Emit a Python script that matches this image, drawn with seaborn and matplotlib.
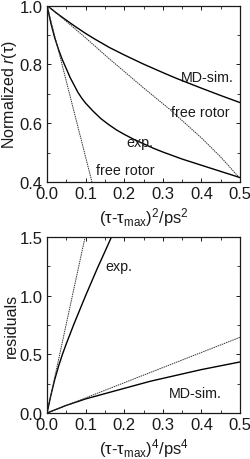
import matplotlib
matplotlib.use("Agg")
import matplotlib.pyplot as plt
import seaborn as sns
from matplotlib.ticker import MultipleLocator

# top panel: normalized r(tau) vs (tau - tau_max)^2
md_x = [0.0, 0.025, 0.05, 0.075, 0.1, 0.125, 0.162, 0.2, 0.248, 0.3, 0.334, 0.4, 0.45, 0.5]
md_y = [1.0, 0.974, 0.95, 0.927, 0.905, 0.885, 0.857, 0.832, 0.802, 0.772, 0.753, 0.719, 0.694, 0.670]
fr_md_x = [0.0, 0.05, 0.1, 0.162, 0.2, 0.25, 0.317, 0.4, 0.45, 0.5]
fr_md_y = [1.0, 0.946, 0.89, 0.818, 0.776, 0.72, 0.648, 0.55, 0.485, 0.412]
exp_x = [0.0, 0.005, 0.01, 0.015, 0.02, 0.03, 0.04, 0.05, 0.06, 0.07, 0.08, 0.09, 0.1,
         0.12, 0.14, 0.16, 0.18, 0.2, 0.225, 0.25, 0.275, 0.3, 0.35, 0.4, 0.45, 0.5]
exp_y = [1.0, 0.97, 0.94, 0.915, 0.89, 0.85, 0.815, 0.785, 0.755, 0.73, 0.705, 0.685, 0.668,
         0.64, 0.615, 0.595, 0.577, 0.562, 0.545, 0.53, 0.515, 0.502, 0.478, 0.457, 0.436, 0.415]
fr_exp_x = [0.0, 0.1165]
fr_exp_y = [1.0, 0.4]

# bottom panel: residuals vs (tau - tau_max)^4
res_exp_x = [0.0, 0.01, 0.02, 0.03, 0.04, 0.05, 0.06, 0.07, 0.08, 0.09, 0.1, 0.115, 0.13, 0.15, 0.167]
res_exp_y = [0.0, 0.15, 0.285, 0.40, 0.50, 0.59, 0.675, 0.76, 0.84, 0.92, 1.0, 1.115, 1.23, 1.375, 1.5]
res_exp_fr_x = [0.0, 0.0987]
res_exp_fr_y = [0.0, 1.5]
res_md_x = [0.0, 0.05, 0.1, 0.15, 0.2, 0.267, 0.3, 0.4, 0.5]
res_md_y = [0.0, 0.065, 0.12, 0.165, 0.21, 0.27, 0.295, 0.37, 0.435]
res_md_fr_x = [0.0, 0.5]
res_md_fr_y = [0.0, 0.645]

sns.set_theme(style="ticks")
plt.rcParams['font.family'] = ['Liberation Sans', 'DejaVu Sans']
plt.rcParams['mathtext.fontset'] = 'custom'
plt.rcParams['mathtext.rm'] = 'Liberation Sans'
plt.rcParams['mathtext.it'] = 'Liberation Sans:italic'

fig = plt.figure(figsize=(2.51, 4.60), dpi=100)
ax1 = fig.add_axes([47 / 251, 1 - 183 / 460, 193 / 251, 176.5 / 460])
ax2 = fig.add_axes([47 / 251, 1 - 414 / 460, 193 / 251, 176 / 460])

ink = "#1a1a1a"
solid = dict(color="black", linewidth=1.0, linestyle="-")
dotted = dict(color="#333333", linewidth=0.7, linestyle=(0, (1.5, 0.8)))

sns.lineplot(x=md_x, y=md_y, ax=ax1, **solid)
sns.lineplot(x=fr_md_x, y=fr_md_y, ax=ax1, **dotted)
sns.lineplot(x=exp_x, y=exp_y, ax=ax1, **solid)
sns.lineplot(x=fr_exp_x, y=fr_exp_y, ax=ax1, **dotted)

sns.lineplot(x=res_exp_x, y=res_exp_y, ax=ax2, **solid)
sns.lineplot(x=res_exp_fr_x, y=res_exp_fr_y, ax=ax2, **dotted)
sns.lineplot(x=res_md_x, y=res_md_y, ax=ax2, **solid)
sns.lineplot(x=res_md_fr_x, y=res_md_fr_y, ax=ax2, **dotted)

fs = 12
ls = 10.3
ax1.text(0.347, 0.742, "MD-sim.", fontsize=ls, color=ink)
ax1.text(0.321, 0.625, "free rotor", fontsize=ls, color=ink)
ax1.text(0.205, 0.524, "exp.", fontsize=ls, color=ink)
ax1.text(0.126, 0.427, "free rotor", fontsize=ls, color=ink)
ax2.text(0.152, 1.22, "exp.", fontsize=ls, color=ink)
ax2.text(0.317, 0.134, "MD-sim.", fontsize=ls, color=ink)

for ax in (ax1, ax2):
    ax.set_xlim(0, 0.5)
    ax.xaxis.set_major_locator(MultipleLocator(0.1))
    ax.xaxis.set_minor_locator(MultipleLocator(0.05))
    ax.tick_params(which="both", direction="in", top=True, right=True,
                   labelsize=fs, colors=ink, pad=3)
    ax.tick_params(which="major", length=3, width=0.7)
    ax.tick_params(which="minor", length=2.2, width=0.6)
    for s in ax.spines.values():
        s.set_linewidth(0.9)
        s.set_color(ink)

ax1.set_ylim(0.4, 1.0)
ax1.yaxis.set_major_locator(MultipleLocator(0.2))
ax1.yaxis.set_minor_locator(MultipleLocator(0.1))
ax1.set_ylabel("Normalized $\\it{r}$(τ)", fontsize=11.5, color=ink, labelpad=0.5)
ax1.set_xlabel("(τ-τ$_{\\rm max}$)$^2$/ps$^2$", fontsize=12, color=ink, labelpad=3)

ax2.set_ylim(0, 1.5)
ax2.yaxis.set_major_locator(MultipleLocator(0.5))
ax2.yaxis.set_minor_locator(MultipleLocator(0.25))
ax2.set_ylabel("residuals", fontsize=11.5, color=ink, labelpad=0.5)
ax2.set_xlabel("(τ-τ$_{\\rm max}$)$^4$/ps$^4$", fontsize=12, color=ink, labelpad=3)

fig.savefig("out.png", dpi=100)
